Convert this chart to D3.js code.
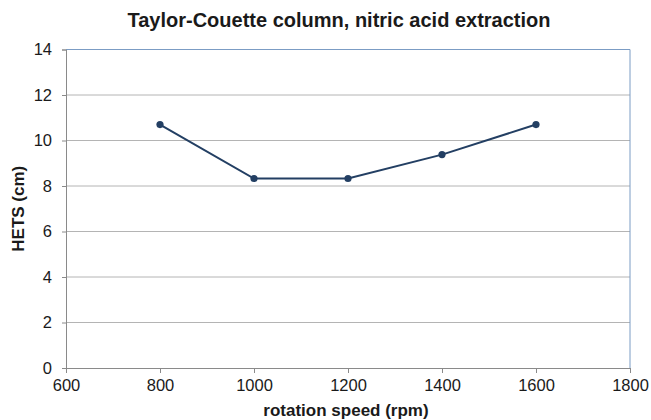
<!DOCTYPE html>
<html>
<head>
<meta charset="utf-8">
<script src="https://cdn.jsdelivr.net/npm/d3@7"></script>
<style>
  body { margin: 0; background: #fff; }
  text { font-family: "Liberation Sans", Arial, sans-serif; fill: #1a1a1a; }
</style>
</head>
<body>
<div id="container"></div>
<script>
// data
var speeds = [800, 1000, 1200, 1400, 1600];
var hets = [10.7, 8.33, 8.33, 9.38, 10.7];
var xTicks = [600, 800, 1000, 1200, 1400, 1600, 1800];
var yTicks = [0, 2, 4, 6, 8, 10, 12, 14];

var width = 651, height = 420;
var plotLeft = 66, plotRight = 630, plotTop = 49.5, plotBottom = 368;

var svg = d3.select('#container')
    .append('svg')
    .attr('width', width)
    .attr('height', height);

var x = d3.scaleLinear().domain([600, 1800]).range([plotLeft, plotRight]);
var y = d3.scaleLinear().domain([0, 14]).range([plotBottom, plotTop]);

// gridlines
svg.append('g')
    .selectAll('line')
    .data(yTicks.filter(function(d){ return d > 0 && d < 14; }))
    .enter().append('line')
    .attr('x1', plotLeft).attr('x2', plotRight)
    .attr('y1', function(d){ return y(d); })
    .attr('y2', function(d){ return y(d); })
    .attr('stroke', '#b4b4b4')
    .attr('stroke-width', 1);

// plot area border top/right
svg.append('path')
    .attr('d', 'M' + plotLeft + ',' + y(14) + 'H' + plotRight + 'V' + plotBottom)
    .attr('fill', 'none')
    .attr('stroke', '#7b9cc4')
    .attr('stroke-width', 1);

// axes
var xAxis = d3.axisBottom(x).tickValues(xTicks).tickFormat(d3.format('d')).tickSize(5).tickPadding(6);
var yAxis = d3.axisLeft(y).tickValues(yTicks).tickFormat(d3.format('d')).tickSize(4).tickPadding(10);

var gx = svg.append('g')
    .attr('transform', 'translate(0,' + plotBottom + ')')
    .call(xAxis);
var gy = svg.append('g')
    .attr('transform', 'translate(' + plotLeft + ',0)')
    .call(yAxis);

[gx, gy].forEach(function(g){
    g.select('.domain').attr('stroke', '#8a8a8a');
    g.selectAll('.tick line').attr('stroke', '#8a8a8a');
    g.selectAll('.tick text')
        .attr('font-size', 16.5)
        .attr('font-family', '"Liberation Sans", Arial, sans-serif')
        .attr('fill', '#1a1a1a');
});

// line + markers
var line = d3.line()
    .x(function(d, i){ return x(speeds[i]); })
    .y(function(d){ return y(d); });

svg.append('path')
    .datum(hets)
    .attr('d', line)
    .attr('fill', 'none')
    .attr('stroke', '#233f63')
    .attr('stroke-width', 2);

svg.append('g')
    .selectAll('circle')
    .data(hets)
    .enter().append('circle')
    .attr('cx', function(d, i){ return x(speeds[i]); })
    .attr('cy', function(d){ return y(d); })
    .attr('r', 3.6)
    .attr('fill', '#233f63');

// titles
svg.append('text')
    .attr('x', 339)
    .attr('y', 27)
    .attr('text-anchor', 'middle')
    .attr('font-size', 20)
    .attr('font-weight', 'bold')
    .text('Taylor-Couette column, nitric acid extraction');

svg.append('text')
    .attr('x', 346)
    .attr('y', 416)
    .attr('text-anchor', 'middle')
    .attr('font-size', 17)
    .attr('font-weight', 'bold')
    .text('rotation speed (rpm)');

svg.append('text')
    .attr('transform', 'translate(24,' + (plotTop + plotBottom) / 2 + ') rotate(-90)')
    .attr('text-anchor', 'middle')
    .attr('font-size', 17)
    .attr('font-weight', 'bold')
    .text('HETS (cm)');
</script>
</body>
</html>
